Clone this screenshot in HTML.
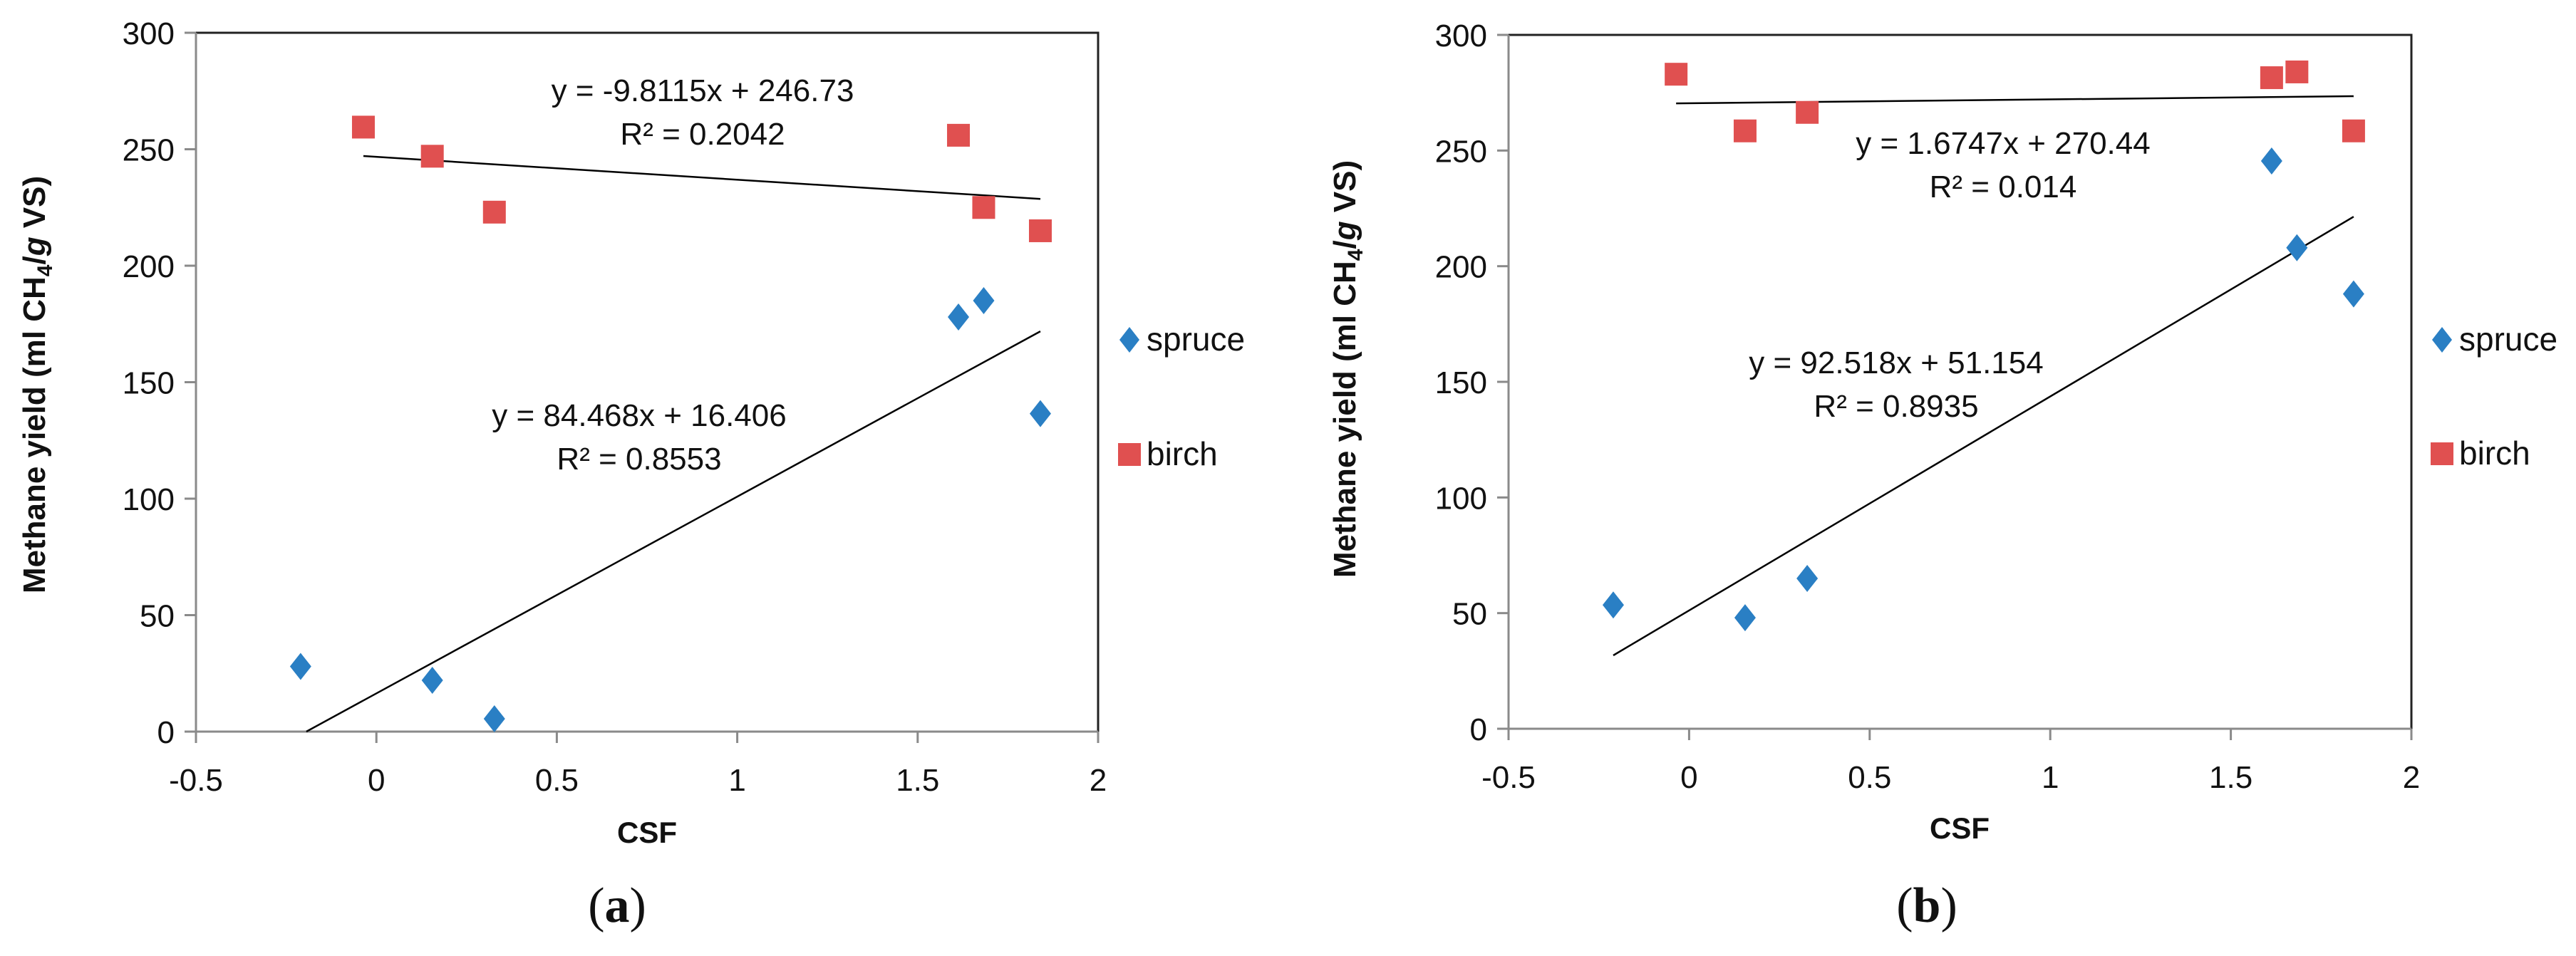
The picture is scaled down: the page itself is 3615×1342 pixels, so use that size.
<!DOCTYPE html>
<html><head><meta charset="utf-8">
<style>
html,body{margin:0;padding:0;background:#fff;}
svg{display:block;font-family:"Liberation Sans",sans-serif;}
</style></head>
<body>
<svg id="fig" width="3615" height="1342" viewBox="0 0 3615 1342" xmlns="http://www.w3.org/2000/svg"></svg>
<script>
const xTicks = [-0.5, 0, 0.5, 1, 1.5, 2];
const xTickLabels = ["-0.5", "0", "0.5", "1", "1.5", "2"];
const yTicks = [0, 50, 100, 150, 200, 250, 300];
const csfValues = [-0.21, 0.155, 0.327, 1.613, 1.683, 1.84];
const spruceA = [28, 22, 5.5, 178, 185, 136.5];
const birchA = [259.5, 247, 223, 256, 225, 215];
const spruceB = [53.5, 48, 65, 245.5, 208, 188];
const birchB = [283, 258.5, 266.5, 281.5, 284, 258.5];
const birchXB = [-0.036, 0.155, 0.327, 1.613, 1.683, 1.84];
const birchXA = [-0.036, 0.155, 0.327, 1.613, 1.683, 1.84];
const trendA = {spruce:[84.468, 16.406], birch:[-9.8115, 246.73]};
const trendB = {spruce:[92.518, 51.154], birch:[1.6747, 270.44]};
const eqTextA = [["y = 84.468x + 16.406","R² = 0.8553"],["y = -9.8115x + 246.73","R² = 0.2042"]];
const eqTextB = [["y = 92.518x + 51.154","R² = 0.8935"],["y = 1.6747x + 270.44","R² = 0.014"]];

const NS="http://www.w3.org/2000/svg";
const svg=document.getElementById('fig');
function mk(tag,attrs,parent){const e=document.createElementNS(NS,tag);for(const k in attrs)e.setAttribute(k,attrs[k]);(parent||svg).appendChild(e);return e;}

function panel(cfg){
  const g=mk('g',{});
  
  
  const L=cfg.L,R=cfg.R,T=cfg.T,B=cfg.B;
  const sx=v=>L+(v+0.5)/2.5*(R-L);
  const sy=v=>B-v/300*(B-T);
  const frame=mk('rect',{x:L,y:T,width:R-L,height:B-T,fill:'none',stroke:'#222','stroke-width':3},g);
  
  
  const xa=mk('line',{x1:L,y1:B,x2:R,y2:B,stroke:'#8a8a8a','stroke-width':3},g);
  
  
  const ya=mk('line',{x1:L,y1:T,x2:L,y2:B,stroke:'#8a8a8a','stroke-width':3},g);
  
  
  xTicks.forEach((t,i)=>{
    mk('line',{x1:sx(t),y1:B,x2:sx(t),y2:B+16,stroke:'#8a8a8a','stroke-width':3},g);
    const tx=mk('text',{x:sx(t),y:B+83,'font-size':44,'text-anchor':'middle',fill:'#111'},g);
    tx.textContent=xTickLabels[i];
    
    
  });
  yTicks.forEach(t=>{
    mk('line',{x1:L-16,y1:sy(t),x2:L,y2:sy(t),stroke:'#8a8a8a','stroke-width':3},g);
    const tx=mk('text',{x:L-30,y:sy(t)+16,'font-size':44,'text-anchor':'end',fill:'#111'},g);
    tx.textContent=String(t);
    
    
  });
  function trend(coef,xs,name){
    let x0=Math.min(...xs),x1=Math.max(...xs);
    let y0=coef[0]*x0+coef[1];
    if(y0<0){x0=-coef[1]/coef[0];y0=0;}
    const y1=coef[0]*x1+coef[1];
    const l=mk('line',{x1:sx(x0),y1:sy(y0),x2:sx(x1),y2:sy(y1),stroke:'#000','stroke-width':2.5},g);
    
    
  }
  trend(cfg.trend.spruce,csfValues,'spruce-trendline');
  trend(cfg.trend.birch,cfg.birchX,'birch-trendline');
  cfg.spruce.forEach((v,i)=>{
    const cx=sx(csfValues[i]),cy=sy(v),r=19;
    const p=mk('polygon',{points:`${cx},${cy-r} ${cx+15},${cy} ${cx},${cy+r} ${cx-15},${cy}`,fill:'#2a7fc4'},g);
    
    
  });
  cfg.birch.forEach((v,i)=>{
    const cx=sx(cfg.birchX[i]),cy=sy(v);
    const p=mk('rect',{x:cx-16,y:cy-16,width:32,height:32,fill:'#e05050'},g);
    
    
  });
  cfg.eqs.forEach((lines,k)=>{
    const pos=cfg.eqPos[k];
    lines.forEach((s,j)=>{
      const t=mk('text',{x:pos[0],y:pos[1]+j*61+16,'font-size':44,'text-anchor':'middle',fill:'#111'},g);
      t.textContent=s;
      
      
    });
  });
  const lx=cfg.legX;
  const d=mk('polygon',{points:`${lx},${cfg.legY[0]-18} ${lx+14},${cfg.legY[0]} ${lx},${cfg.legY[0]+18} ${lx-14},${cfg.legY[0]}`,fill:'#2a7fc4'},g);
  
  
  const t1=mk('text',{x:lx+24,y:cfg.legY[0]+15,'font-size':46,fill:'#111'},g);t1.textContent='spruce';
  
  
  const s=mk('rect',{x:lx-16,y:cfg.legY[1]-16,width:32,height:32,fill:'#e05050'},g);
  
  
  const t2=mk('text',{x:lx+24,y:cfg.legY[1]+15,'font-size':46,fill:'#111'},g);t2.textContent='birch';
  
  
  const xt=mk('text',{x:cfg.csf[0],y:cfg.csf[1]+15,'font-size':42,'font-weight':'bold','text-anchor':'middle',fill:'#111'},g);
  xt.textContent='CSF';
  
  
  const yt=mk('text',{x:0,y:0,'font-size':44,'font-weight':'bold','text-anchor':'middle',fill:'#111',transform:`translate(${cfg.yt[0]+15},${cfg.yt[1]}) rotate(-90)`},g);
  yt.innerHTML='Methane yield (ml CH<tspan font-size="30" dy="10">4</tspan><tspan dy="-10">/</tspan><tspan font-style="italic">g</tspan> VS)';
  
  
  const cap=mk('text',{x:cfg.cap[0],y:cfg.cap[1]+24,'font-size':70,'text-anchor':'middle','font-family':'Liberation Serif, serif',fill:'#111'},g);
  cap.innerHTML='(<tspan font-weight="bold">'+cfg.capL+'</tspan>)';
  
  
}

panel({name:'chart-a',L:275,R:1541,T:46,B:1027,spruce:spruceA,birch:birchA,birchX:birchXA,trend:trendA,eqs:eqTextA,
  eqPos:[[897,582],[986,126]],legX:1585,legY:[477,638],csf:[908,1168],yt:[48,540],cap:[866,1270],capL:'a'});
panel({name:'chart-b',L:2117,R:3384,T:49,B:1023,spruce:spruceB,birch:birchB,birchX:birchXB,trend:trendB,eqs:eqTextB,
  eqPos:[[2661,508],[2811,200]],legX:3427,legY:[477,637],csf:[2750,1162],yt:[1887,518],cap:[2704,1270],capL:'b'});
</script>
</body></html>
